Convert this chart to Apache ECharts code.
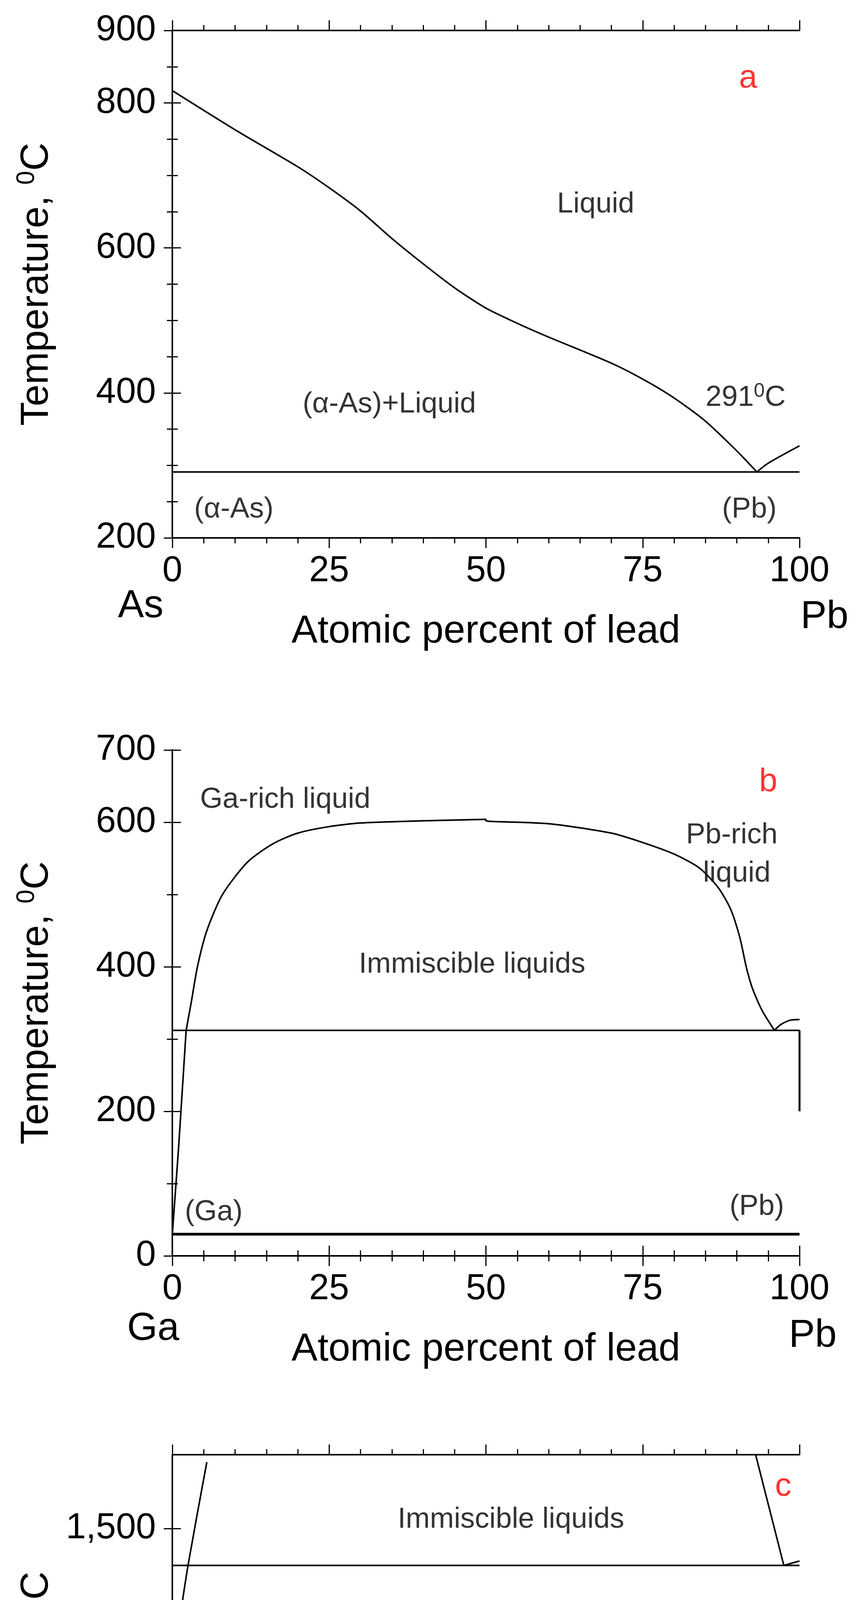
<!DOCTYPE html>
<html>
<head>
<meta charset="utf-8">
<title>Phase diagrams</title>
<script src="https://cdn.jsdelivr.net/npm/echarts@6/dist/echarts.min.js"></script>
<style>html,body{margin:0;padding:0;background:#fff}</style>
</head>
<body>
<div id="chart" style="width:2211px;height:5345px;"></div>
<script>
// ---- data: (a) As-Pb ----
var aLiquidusAs = [[0,817],[10,763],[20,712],[25,683],[30,651],[35,613],[40,578],[45,545],[50,517],[55,496],[60,477],[70,441],[75,419],[80,393],[85,361],[90,320],[93.2,291]];
var aLiquidusPb = [[93.2,291],[95,303],[100,327]];
var aEutectic = [[0,291],[100,291]];
var aLabels = [[67.5,660,'Liquid'],[34.6,384,'(α-As)+Liquid'],[9.8,239,'(α-As)'],[92,239,'(Pb)']];

// ---- data: (b) Ga-Pb ----
var bLiqLeft = [[0,30],[1,150],[2.2,312]];
var bDome = [[2.2,312],[3,350],[4,400],[5.5,450],[8,500],[12,545],[16,570],[20,585],[25,594],[30,599],[40,602],[50,604],[50,602],[60,598],[70,585],[75,572],[80,556],[84,537],[87,510],[89,480],[90.5,440],[91.5,400],[92.5,370],[94,340],[96,312]];
var bPbArc = [[96,312],[97,320],[98.5,326],[100,327]];
var bPbSolvus = [[100,312],[100,200]];
var bMonotectic = [[0,312],[100,312]];
var bEutectic = [[0,30],[100,30]];
var bLabels = [[18,631,'Ga-rich liquid'],[89.2,582,'Pb-rich'],[90,529,'liquid'],[47.8,403,'Immiscible liquids'],[6.6,60,'(Ga)'],[93.2,68,'(Pb)']];

// ---- data: (c) Pb-Si ----
var cLeft = [[0,327],[0.1,700],[0.3,1000],[0.8,1200],[2.5,1400],[5.5,1680]];
var cRight = [[93,1700],[97.5,1400]];
var cSi = [[97.5,1400],[100,1412]];
var cMonotectic = [[0,1400],[100,1400]];
var cEutectic = [[0,327],[100,327]];
var cLabels = [[54,1524,'Immiscible liquids'],[5.9,474,'(Pb)'],[93.4,507,'(Si)']];

var FONT = "'Liberation Sans Narrow','Liberation Sans',Arial,sans-serif";

var chart = echarts.init(document.getElementById('chart'));

var grids = [
  {left:441, right:165, top:78, height:1299},
  {left:441, right:165, top:1920, height:1295},
  {left:441, right:165, top:3724, height:1323}
];
var yCfg = [
  {min:200, max:900, interval:200, split:4},
  {min:0, max:700, interval:200, split:2},
  {min:300, max:1700, custom:[500,1000,1500], ticks:[500,750,1000,1250,1500]}
];
var xNames = ['Atomic percent of lead','Atomic percent of lead','Atomic percent of silicon'];

var lineAx = {lineStyle:{color:'#000', width:4}};
var xAxes = [], yAxes = [];
grids.forEach(function (g, i) {
  ['bottom','top'].forEach(function (pos) {
    xAxes.push({
      gridIndex:i, type:'value', position:pos, min:0, max:100, interval:25,
      axisLine:lineAx, splitLine:{show:false},
      axisTick:{show:true, length:26, inside:false, lineStyle:{color:'#000', width:3}},
      minorTick:{show:true, splitNumber:5, length:14, lineStyle:{color:'#000', width:3}},
      axisLabel:{show:pos === 'bottom', color:'#000', fontSize:92, fontFamily:FONT, margin:40},
      name: pos === 'bottom' ? xNames[i] : '',
      nameLocation:'middle', nameGap:190,
      nameTextStyle:{color:'#000', fontSize:100, fontFamily:FONT}
    });
  });
  var c = yCfg[i];
  ['left','right'].forEach(function (pos) {
    var ax = {
      gridIndex:i, type:'value', position:pos, min:c.min, max:c.max,
      axisLine:lineAx, splitLine:{show:false},
      axisTick:{show:true, length:22, lineStyle:{color:'#000', width:3}},
      axisLabel:{show:pos === 'left', color:'#000', fontSize:92, fontFamily:FONT, margin:42},
      name: pos === 'left' ? 'Temperature, {s|0}C' : '',
      nameLocation:'middle', nameGap:290, nameRotate:90,
      nameTextStyle:{color:'#000', fontSize:100, fontFamily:FONT,
        rich:{s:{fontSize:64, verticalAlign:'top', padding:[0,0,50,0], fontFamily:FONT}}}
    };
    if (c.custom) {
      ax.axisLabel.customValues = c.custom;
      ax.axisTick.customValues = c.ticks;
    } else {
      ax.interval = c.interval;
      ax.minorTick = {show:true, splitNumber:c.split, length:14, lineStyle:{color:'#000', width:3}};
    }
    yAxes.push(ax);
  });
});

function line(i, data, w, smooth) {
  return {type:'line', xAxisIndex:i*2, yAxisIndex:i*2, data:data, showSymbol:false, symbol:'none',
    smooth:smooth || false, lineStyle:{color:'#000', width:w || 4}, silent:true, z:3};
}
function labels(i, arr, color, size) {
  return {type:'scatter', xAxisIndex:i*2, yAxisIndex:i*2, symbolSize:0, silent:true,
    data:arr.map(function (d) { return {value:[d[0], d[1]], name:d[2]}; }),
    label:{show:true, position:'inside', formatter:'{b}', color:color || '#000', fontSize:size || 74, fontFamily:FONT}};
}

var series = [
  line(0, aLiquidusAs, 4, 0.25), line(0, aLiquidusPb, 4, 0.25), line(0, aEutectic),
  labels(0, aLabels),
  {type:'scatter', xAxisIndex:0, yAxisIndex:0, symbolSize:0, silent:true,
    data:[{value:[91.4,393], name:'291'}],
    label:{show:true, position:'inside', formatter:'{t|291}{s|0}{t|C}', color:'#000',
      rich:{t:{fontSize:74, fontFamily:FONT}, s:{fontSize:50, fontFamily:FONT, verticalAlign:'top', padding:[0,0,34,0]}}}},
  labels(0, [[91.8,834,'a']], '#ff0000', 84),
  line(1, bLiqLeft), line(1, bDome, 4, 0.25), line(1, bPbArc, 4, 0.3), line(1, bPbSolvus, 5),
  line(1, bMonotectic), line(1, bEutectic, 7),
  labels(1, bLabels), labels(1, [[95,655,'b']], '#ff0000', 84),
  line(2, cLeft, 4, 0.2), line(2, cRight), line(2, cSi), line(2, cMonotectic), line(2, cEutectic, 7),
  labels(2, cLabels), labels(2, [[97.4,1613,'c']], '#ff0000', 84)
];

var endLabels = [
  ['As', 360, 1552], ['Pb', 2110, 1580],
  ['Ga', 392, 3402], ['Pb', 2080, 3420],
  ['Pb', 451, 5255], ['Si', 2059, 5244]
];

chart.setOption({
  animation:false,
  grid:grids,
  xAxis:xAxes,
  yAxis:yAxes,
  series:series,
  graphic:endLabels.map(function (e) {
    return {type:'text', x:e[1], y:e[2], style:{text:e[0], fill:'#000', font:'100px ' + FONT, textAlign:'center', textVerticalAlign:'middle'}};
  })
});
</script>
</body>
</html>
